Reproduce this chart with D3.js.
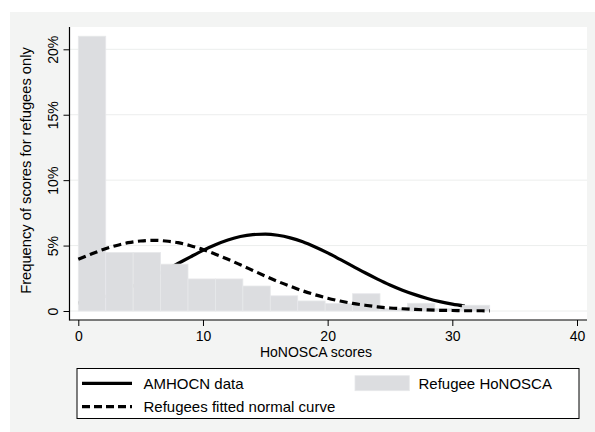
<!DOCTYPE html>
<html>
<head>
<meta charset="utf-8">
<title>HoNOSCA scores</title>
<script src="https://d3js.org/d3.v7.min.js"></script>
<style>
  body { margin: 0; background: #fff; }
  text { font-family: "Liberation Sans", Arial, sans-serif; fill: #000; }
</style>
</head>
<body>
<svg width="595" height="432"></svg>
<script>
// histogram of refugee HoNOSCA scores (15 bins of width 2.2, 0..33), in %
var binStarts = [0, 2.2, 4.4, 6.6, 8.8, 11, 13.2, 15.4, 17.6, 19.8, 22, 24.2, 26.4, 28.6, 30.8];
var binWidth = 2.2;
var refugeePct = [21.0, 4.47, 4.47, 3.58, 2.45, 2.45, 1.91, 1.16, 0.77, 0.57, 1.32, 0.2, 0.59, 0.2, 0.44];

// AMHOCN curve at whole scores 0..31
var amhocnX = d3.range(0, 32);
var amhocnY = [0.60, 0.81, 1.07, 1.38, 1.75, 2.16, 2.62, 3.12, 3.63, 4.14, 4.63, 5.06, 5.42, 5.69, 5.84, 5.88,
               5.79, 5.59, 5.29, 4.89, 4.44, 3.94, 3.43, 2.92, 2.44, 1.99, 1.59, 1.25, 0.96, 0.72, 0.53, 0.38];

// refugees fitted normal curve, read at whole scores 0..33
var refugeeX = d3.range(0, 34);
var refugeeY = [3.95, 4.34, 4.70, 4.99, 5.22, 5.35, 5.40, 5.35, 5.22, 4.99, 4.70, 4.34, 3.95, 3.53, 3.10, 2.67,
                2.26, 1.89, 1.54, 1.24, 0.98, 0.76, 0.58, 0.44, 0.32, 0.23, 0.17, 0.12, 0.08, 0.05, 0.04, 0.02, 0.02, 0.01];

var xTicks = [0, 10, 20, 30, 40];
var yTicks = [0, 5, 10, 15, 20];
var yTickLabels = ["0", "5%", "10%", "15%", "20%"];

var svg = d3.select("svg");

// graph region
svg.append("rect").attr("x", 10).attr("y", 12).attr("width", 585).attr("height", 420).attr("fill", "#f3f4f3");
// plot region
svg.append("rect").attr("x", 69.5).attr("y", 27).attr("width", 517.5).attr("height", 293).attr("fill", "#fff");

var x = d3.scaleLinear().domain([0, 40]).range([78.3, 577]);
var y = d3.scaleLinear().domain([0, 20]).range([311, 49.3]);

// gridlines
svg.append("g").selectAll("line")
  .data(yTicks)
  .enter().append("line")
    .attr("x1", 69.5).attr("x2", 587)
    .attr("y1", function(d) { return y(d); })
    .attr("y2", function(d) { return y(d); })
    .attr("stroke", "#eceeed")
    .attr("stroke-width", 1);

var line = d3.line()
  .x(function(d) { return x(d[0]); })
  .y(function(d) { return y(d[1]); })
  .curve(d3.curveMonotoneX);

// AMHOCN curve sits behind the bars
svg.append("path")
  .datum(d3.zip(amhocnX, amhocnY))
  .attr("d", line)
  .attr("fill", "none")
  .attr("stroke", "#000")
  .attr("stroke-width", 3.2);

// bars
svg.append("g").selectAll("rect")
  .data(binStarts)
  .enter().append("rect")
    .attr("x", function(d) { return x(d); })
    .attr("y", function(d, i) { return y(refugeePct[i]); })
    .attr("width", function(d) { return x(d + binWidth) - x(d); })
    .attr("height", function(d, i) { return y(0) - y(refugeePct[i]); })
    .attr("fill", "#dcdde0")
    .attr("stroke", "#e7e8ea")
    .attr("stroke-width", 0.8);

// fitted normal, dashed, on top
svg.append("path")
  .datum(d3.zip(refugeeX, refugeeY))
  .attr("d", line)
  .attr("fill", "none")
  .attr("stroke", "#000")
  .attr("stroke-width", 3.2)
  .attr("stroke-dasharray", "8,4.5");

// x axis
var xAxis = svg.append("g")
  .attr("transform", "translate(0,320)")
  .call(d3.axisBottom(x).tickValues(xTicks).tickSize(6).tickSizeOuter(0).tickPadding(5));
xAxis.select(".domain").remove();
xAxis.append("line").attr("x1", 69.5).attr("x2", 587).attr("stroke", "#000").attr("stroke-width", 1.2);
xAxis.selectAll(".tick line").attr("stroke", "#000");
xAxis.selectAll(".tick text").attr("font-size", 14).attr("font-family", "Liberation Sans, Arial, sans-serif");

// y axis
var yAxis = svg.append("g")
  .attr("transform", "translate(69.5,0)")
  .call(d3.axisLeft(y).tickValues(yTicks).tickSize(6).tickSizeOuter(0)
    .tickFormat(function(d, i) { return yTickLabels[i]; }));
yAxis.select(".domain").remove();
yAxis.append("line").attr("y1", 27).attr("y2", 320.5).attr("stroke", "#000").attr("stroke-width", 1.2);
yAxis.selectAll(".tick line").attr("stroke", "#000");
yAxis.selectAll(".tick text")
  .attr("font-size", 14)
  .attr("font-family", "Liberation Sans, Arial, sans-serif")
  .attr("x", null).attr("dy", null)
  .attr("text-anchor", "middle")
  .attr("transform", "translate(-12,0) rotate(-90)");

// axis titles
svg.append("text")
  .attr("x", 316).attr("y", 357)
  .attr("text-anchor", "middle")
  .attr("font-size", 14)
  .text("HoNOSCA scores");

svg.append("text")
  .attr("transform", "translate(31,170.5) rotate(-90)")
  .attr("text-anchor", "middle")
  .attr("font-size", 14.7)
  .text("Frequency of scores for refugees only");

// legend
var legend = svg.append("g");
legend.append("rect")
  .attr("x", 77).attr("y", 368.5).attr("width", 502).attr("height", 50)
  .attr("fill", "#fff").attr("stroke", "#000").attr("stroke-width", 1);

legend.append("line")
  .attr("x1", 82).attr("x2", 132).attr("y1", 383.3).attr("y2", 383.3)
  .attr("stroke", "#000").attr("stroke-width", 3.2);
legend.append("text").attr("x", 143.5).attr("y", 389).attr("font-size", 15).text("AMHOCN data");

legend.append("rect")
  .attr("x", 355).attr("y", 375.7).attr("width", 54.3).attr("height", 15)
  .attr("fill", "#dcdde0").attr("stroke", "#e7e8ea").attr("stroke-width", 0.8);
legend.append("text").attr("x", 418.5).attr("y", 389).attr("font-size", 15).text("Refugee HoNOSCA");

legend.append("line")
  .attr("x1", 82).attr("x2", 132).attr("y1", 406.7).attr("y2", 406.7)
  .attr("stroke", "#000").attr("stroke-width", 3.2)
  .attr("stroke-dasharray", "8,4");
legend.append("text").attr("x", 143.5).attr("y", 411.5).attr("font-size", 15).text("Refugees fitted normal curve");
</script>
</body>
</html>
